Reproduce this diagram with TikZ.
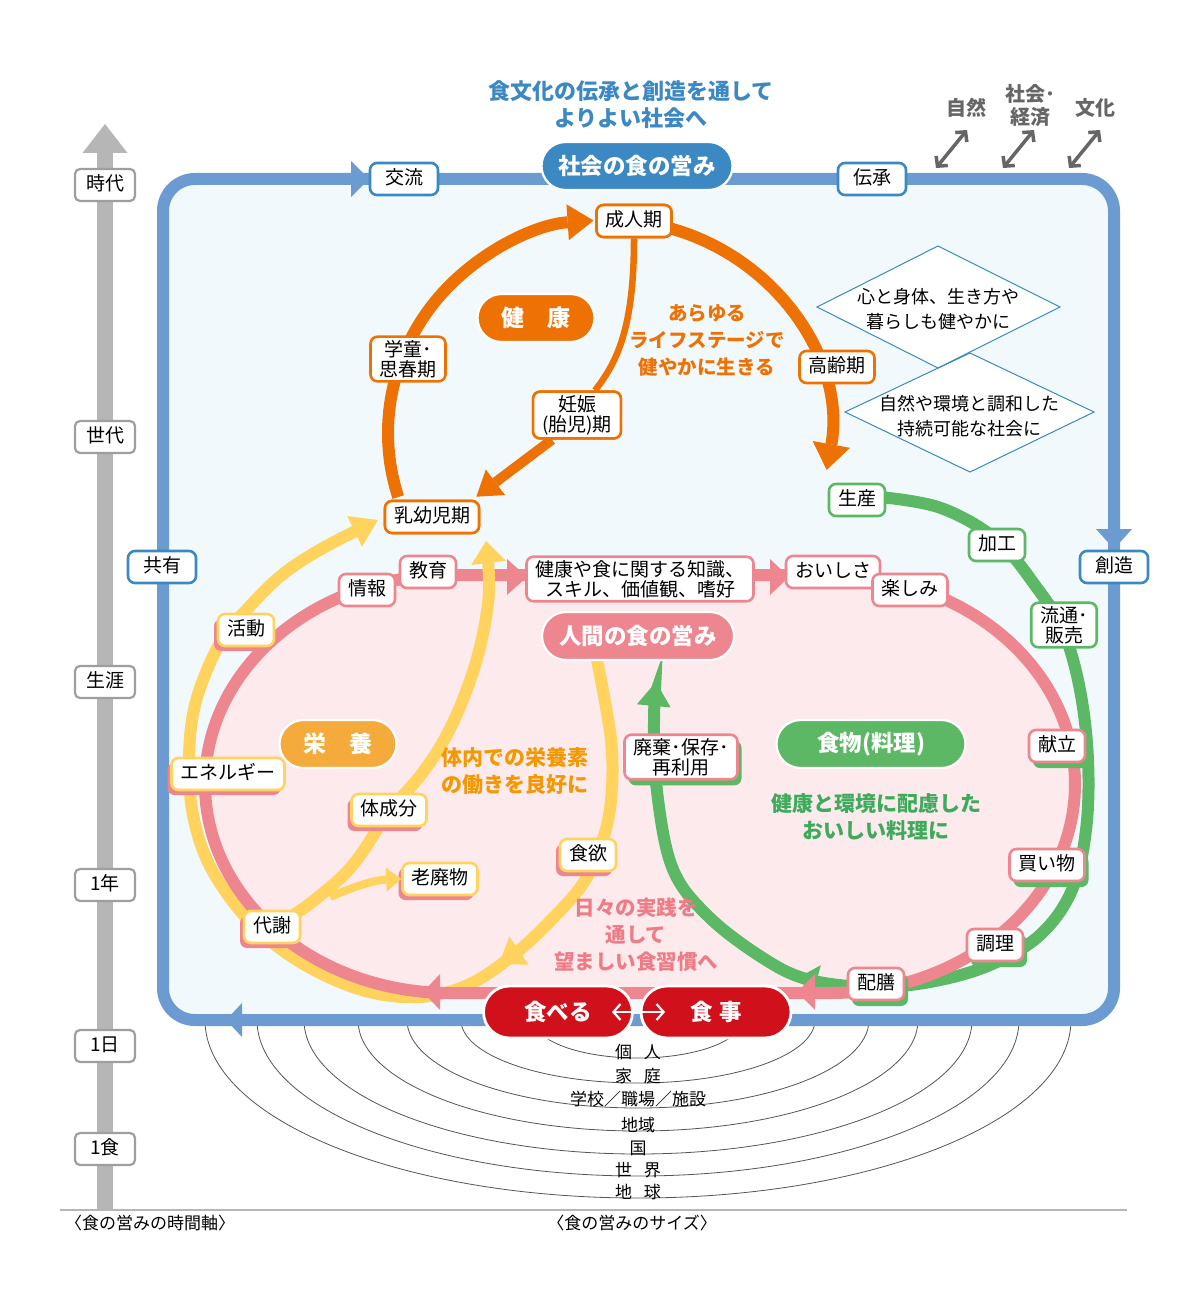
\documentclass[tikz,border=0pt]{standalone}
\usepackage{fontspec}
\setmainfont{Noto Sans CJK JP}
\usetikzlibrary{arrows.meta,shapes.misc,shadows}
\definecolor{frameblue}{HTML}{6C9BD2}
\definecolor{framefill}{HTML}{F2F9FD}
\definecolor{dblue}{HTML}{3B88C3}
\definecolor{orng}{HTML}{EE7203}
\definecolor{ylw}{HTML}{FFD35E}
\definecolor{nutr}{HTML}{F5AA3C}
\definecolor{nutrtext}{HTML}{F39800}
\definecolor{pnk}{HTML}{EE868F}
\definecolor{pnkfill}{HTML}{FCEAEC}
\definecolor{pnktext}{HTML}{EE7C86}
\definecolor{grn}{HTML}{5DB866}
\definecolor{grntext}{HTML}{3DAA5C}
\definecolor{rd}{HTML}{D0111B}
\definecolor{axisgray}{HTML}{B5B6B5}
\definecolor{boxgray}{HTML}{9E9E9E}
\definecolor{txtgray}{HTML}{666666}
\definecolor{arcgray}{HTML}{555555}
\newcommand{\mytri}[6]{\fill[#1,shift={(#2,#3)},rotate=#4] (0,0) -- (-#5,#6) -- (-#5,-#6) -- cycle;}
\newcommand{\nodefnt}{\fontsize{19}{20}\selectfont}
\newcommand{\pillfnt}{\bfseries\fontsize{22.5}{26}\selectfont}
\tikzset{
  lblbase/.style={draw, fill=white, rounded corners=7pt, line width=2.6pt, inner xsep=9pt, inner ysep=6.5pt, font=\nodefnt, align=center, text=black},
  oneline/.style={text height=15pt, text depth=4pt},
  twoline/.style={inner ysep=3.5pt},
  obox/.style={lblbase, draw=orng},
  pbox/.style={lblbase, draw=pnk},
  gbox/.style={lblbase, draw=grn},
  bbox/.style={lblbase, draw=dblue, minimum width=68pt},
  ybox/.style={lblbase, draw=ylw, general shadow={fill=pnk, shadow xshift=-4pt, shadow yshift=-5pt}},
  pgbox/.style={lblbase, draw=pnk, general shadow={fill=grn, shadow xshift=4pt, shadow yshift=-6pt}},
  gybox/.style={lblbase, draw=boxgray, rounded corners=5pt, line width=2.2pt, minimum width=60pt},
  pill/.style={rounded rectangle, draw=white, line width=2.2pt, text=white, font=\pillfnt, minimum height=48pt, inner xsep=4pt},
  ctext/.style={font=\bfseries\fontsize{21}{27}\selectfont, align=center, inner sep=0pt},
  arcline/.style={draw=arcgray, line width=0.8pt},
  arclbl/.style={font=\fontsize{17}{20}\selectfont, inner sep=0pt},
  dtext/.style={font=\fontsize{18}{25}\selectfont, align=center, inner sep=0pt},
  sizelbl/.style={font=\fontsize{17}{20}\selectfont, inner sep=0pt}
}
\begin{document}
\begin{tikzpicture}[x=1pt,y=-1pt]
\useasboundingbox (0,0) rectangle (1190,1300);
\fill[white] (0,0) rectangle (1190,1300);

% ---------- time axis ----------
\coordinate (axb) at (105,1210);
\coordinate (axt) at (105,124);
\draw[axisgray, line width=16pt, -{Triangle[width=45pt,length=29pt,line width=0pt]}] (axb) -- (axt);
\coordinate (bl1) at (60,1210);
\coordinate (bl2) at (1127,1210);
\draw[axisgray, line width=2.5pt] (bl1) -- (bl2);
\node[sizelbl] (lbltime) at (150,1223) {〈食の営みの時間軸〉};
\node[sizelbl] (lblsize) at (632,1223) {〈食の営みのサイズ〉};

% ---------- size arcs ----------
\foreach \rx/\ry in {104/38,177/63,231/88,280/111,334/134,381/156,433/178}
  \draw[arcline] (638-\rx,1020) arc[start angle=180,end angle=0,x radius=\rx,y radius=\ry];
\node[arclbl] (s1) at (638,1052) {個\hspace{12pt}人};
\node[arclbl] (s2) at (638,1076) {家\hspace{12pt}庭};
\node[arclbl] (s3) at (638,1099) {学校／職場／施設};
\node[arclbl] (s4) at (638,1125) {地域};
\node[arclbl] (s5) at (638,1148) {国};
\node[arclbl] (s6) at (638,1170) {世\hspace{12pt}界};
\node[arclbl] (s7) at (638,1192) {地\hspace{12pt}球};

% ---------- blue frame ----------
\draw[frameblue, fill=framefill, line width=12pt, rounded corners=32pt] (163,179) rectangle (1114,1020);
\mytri{frameblue}{369}{179}{0}{18}{18}
\mytri{frameblue}{1114}{549}{-90}{20}{18}
\mytri{frameblue}{226}{1020}{180}{16}{17}

% ---------- top texts ----------
\node[ctext, text=dblue, font=\bfseries\fontsize{22}{27}\selectfont] (toptext) at (631,105) {食文化の伝承と創造を通して\\よりよい社会へ};
\node[ctext, text=txtgray, font=\bfseries\fontsize{20}{23}\selectfont] (nat) at (966,108) {自然};
\node[ctext, text=txtgray, font=\bfseries\fontsize{20}{23}\selectfont] (soc) at (1030,106) {社会･\\経済};
\node[ctext, text=txtgray, font=\bfseries\fontsize{20}{23}\selectfont] (cul) at (1095,108) {文化};
\foreach \xa [count=\i] in {936,1003,1069}{
  \coordinate (da\i) at (\xa,168);
  \coordinate (db\i) at (\xa+31,130);
  \draw[txtgray, line width=3.5pt, {Straight Barb[length=7pt,width=15pt]}-{Straight Barb[length=7pt,width=15pt]}] (da\i) -- (db\i);
}

% ---------- diamonds ----------
\fill[white] (938,246) -- (1060,307) -- (938,368) -- (817,307) -- cycle;
\fill[white] (970,353) -- (1094,412) -- (970,472) -- (845,412) -- cycle;
\draw[dblue, line width=1pt] (938,246) -- (1060,307) -- (938,368) -- (817,307) -- cycle;
\draw[dblue, line width=1pt] (970,353) -- (1094,412) -- (970,472) -- (845,412) -- cycle;
\node[dtext] (dia1) at (938,309) {心と身体、生き方や\\暮らしも健やかに};
\node[dtext] (dia2) at (969,416) {自然や環境と調和した\\持続可能な社会に};

% ---------- orange (health) ----------
\coordinate (oc) at (609,433);
\draw[orng, line width=12pt, -{Triangle[width=36pt,length=26pt,line width=0pt]}] (oc) ++(162.5:221 and 213) arc[start angle=162.5, end angle=266, x radius=221, y radius=213];
\draw[orng, line width=12pt, -{Triangle[width=38pt,length=26pt,line width=0pt]}] (oc) ++(-75:221 and 213) arc[start angle=-75, end angle=10, x radius=221, y radius=213];

% ---------- pink fill ----------
\fill[pnkfill] (450,575) arc[start angle=270, end angle=90, x radius=245, y radius=209] -- (830,993) arc[start angle=90, end angle=-90, x radius=245, y radius=209] -- cycle;

% ---------- green (food) ----------
\draw[grn, line width=12pt, -{Triangle[width=34pt,length=24pt,line width=0pt]}] plot[smooth, tension=0.6] coordinates {(880,497) (941,508) (997,540) (1037,588) (1063,630) (1080,690) (1088,760) (1086,830) (1072,890) (1040,935) (990,965) (930,982) (870,987) (810,980) (766,960) (709,917) (672,867) (656,783) (654,720) (656,682)};
\mytri{grn}{799}{977}{165}{18}{17}

% ---------- yellow outer (nutrition) ----------
\draw[ylw, line width=12pt, -{Triangle[width=34pt,length=26pt,line width=0pt]}] plot[smooth, tension=0.6] coordinates {(596,655) (611,740) (611,800) (602,842) (584,882) (555,916) (517,952) (470,984) (420,997) (362,990) (300,962) (250,922) (212,870) (194,820) (189,770) (192,720) (203,680) (223,638) (250,606) (283,574) (323,548) (378,520)};
\mytri{ylw}{499}{964}{214}{24}{17}

% ---------- pink line ----------
\draw[pnk, line width=12pt] (450,575) arc[start angle=270, end angle=90, x radius=245, y radius=209] -- (830,993) arc[start angle=90, end angle=-90, x radius=245, y radius=209] -- cycle;
\mytri{pnk}{527}{577}{0}{20}{18}
\mytri{pnk}{789}{577}{0}{19}{18}
\mytri{pnk}{423}{992}{180}{17}{18}
\mytri{pnk}{797}{992}{180}{18}{18}

% ---------- yellow inner ----------
\draw[ylw, line width=12pt, -{Triangle[width=35pt,length=22pt,line width=0pt]}] plot[smooth, tension=0.6] coordinates {(285,920) (312,902) (352,866) (389,812) (420,776) (444,740) (464,697) (480,647) (489,592) (486,541)};
\coordinate (brs) at (330,897);

% ---------- nodes ----------
\node[gybox, oneline] (t1) at (105,185) {時代};
\node[gybox, oneline] (t2) at (105,437) {世代};
\node[gybox, oneline] (t3) at (105,682) {生涯};
\node[gybox, oneline] (t4) at (105,885) {1年};
\node[gybox, oneline] (t5) at (105,1046) {1日};
\node[gybox, oneline] (t6) at (105,1149) {1食};

\node[bbox, oneline] (b1) at (404,179) {交流};
\node[bbox, oneline] (b2) at (872,179) {伝承};
\node[bbox, oneline] (b3) at (162,567) {共有};
\node[bbox, oneline] (b4) at (1114,567) {創造};

\node[obox, oneline] (o1) at (634,221) {成人期};
\node[obox, twoline] (o2) at (408,359) {学童･\\思春期};
\node[obox, oneline] (o3) at (837,367) {高齢期};
\node[obox, twoline] (o4) at (577,415) {妊娠\\(胎児)期};
\node[obox, oneline] (o5) at (432,517) {乳幼児期};

% orange connectors between life stages
\draw[orng, line width=6.5pt] (o1.south) .. controls +(0,90) and +(22,-28) .. ([xshift=18pt]o4.north);
\draw[orng, line width=10pt, -{Triangle[width=32pt,length=24pt,line width=0pt]}] ([xshift=-25pt]o4.south) -- ([xshift=-4pt,yshift=3pt]o5.north east);
\node[obox, twoline] at (577,415) {妊娠\\(胎児)期};
\node[obox, oneline] at (634,221) {成人期};
\node[obox, oneline] at (432,517) {乳幼児期};

\node[ybox, oneline] (y1) at (246,630) {活動};
\node[ybox, oneline] (y2) at (228,774) {エネルギー};
\node[ybox, oneline] (y3) at (389,810) {体成分};
\node[ybox, oneline] (y4) at (440,879) {老廃物};
\node[ybox, oneline] (y6) at (588,855) {食欲};
\draw[ylw, line width=8pt, -{Triangle[width=24pt,length=15pt,line width=0pt]}] (brs) .. controls (355,886) and (375,880) .. (y4.west);
\node[ybox, oneline] (y5) at (272,927) {代謝};

\node[pbox, oneline] (k1) at (367,590) {情報};
\node[pbox, oneline] (k2) at (428,572) {教育};
\node[pbox, twoline] (k3) at (640,579) {健康や食に関する知識、\\スキル、価値観、嗜好};
\node[pbox, oneline] (k4) at (833,572) {おいしさ};
\node[pbox, oneline] (k5) at (910,590) {楽しみ};

\node[gbox, oneline] (g1) at (857,500) {生産};
\node[gbox, oneline] (g2) at (997,545) {加工};
\node[gbox, twoline] (g3) at (1064,625) {流通･\\販売};

\node[pgbox, oneline] (f1) at (1057,746) {献立};
\node[pgbox, oneline] (f2) at (1047,865) {買い物};
\node[pgbox, oneline] (f3) at (995,945) {調理};
\node[pgbox, oneline] (f4) at (876,984) {配膳};
\node[pgbox, twoline] (f5) at (681,757) {廃棄･保存･\\再利用};

% ---------- pills ----------
\node[pill, fill=dblue, minimum width=199pt] (psoc) at (637,166) {社会の食の営み};
\node[pill, fill=orng, minimum width=125pt, font=\bfseries\fontsize{23}{26}\selectfont] (pken) at (536,318) {健　康};
\node[pill, fill=pnk, minimum width=200pt] (phum) at (638,636) {人間の食の営み};
\node[pill, fill=nutr, minimum width=125pt, font=\bfseries\fontsize{23}{26}\selectfont] (peiyo) at (338,744) {栄　養};
\node[pill, fill=grn, minimum width=197pt] (pfood) at (871,744) {食物(料理)};
\node[pill, fill=rd, minimum width=157pt, minimum height=52pt, line width=2.8pt] (ptab) at (558,1012) {食べる};
\node[pill, fill=rd, minimum width=158pt, minimum height=52pt, line width=2.8pt] (pshoku) at (716,1012) {食\hspace{7pt}事};
\coordinate (wa1) at (636,1012);
\coordinate (wa2) at (612,1012);
\coordinate (wa3) at (641,1012);
\coordinate (wa4) at (665,1012);
\draw[white, line width=2.2pt, -{Straight Barb[length=7pt,width=16pt]}] (wa1) -- (wa2);
\draw[white, line width=2.2pt, -{Straight Barb[length=7pt,width=16pt]}] (wa3) -- (wa4);

% ---------- coloured texts ----------
\node[ctext, text=orng, font=\bfseries\fontsize{19.5}{27}\selectfont] (txtlife) at (707,340) {あらゆる\\ライフステージで\\健やかに生きる};
\node[ctext, text=nutrtext] (txtnut) at (515,771) {体内での栄養素\\の働きを良好に};
\node[ctext, text=grntext] (txtfood) at (876,817) {健康と環境に配慮した\\おいしい料理に};
\node[ctext, text=pnktext, font=\bfseries\fontsize{20.5}{27}\selectfont] (txtdaily) at (636,935) {日々の実践を\\通して\\望ましい食習慣へ};

\end{tikzpicture}
\end{document}
